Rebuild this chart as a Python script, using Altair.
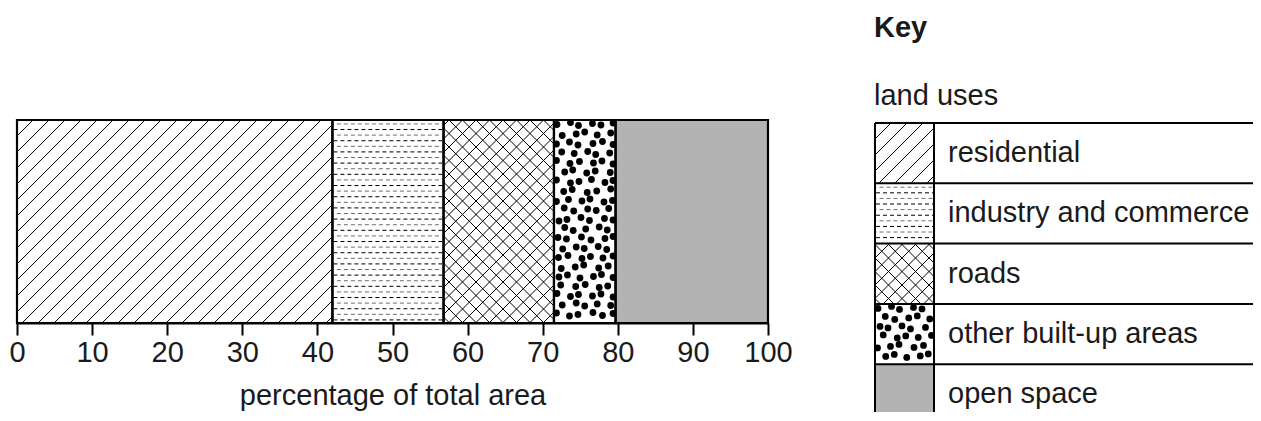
import math
import altair as alt
import pandas as pd

# ---------------- data ----------------
CATEGORIES = ["residential", "industry and commerce", "roads",
              "other built-up areas", "open space"]
PERCENTS = [42.0, 14.8, 14.7, 8.2, 20.3]
PATTERNS = ["diag", "dash", "cross", "dots", "solid"]
TICKS = [0, 10, 20, 30, 40, 50, 60, 70, 80, 90, 100]
AXIS_TITLE = "percentage of total area"
KEY_TITLE = "Key"
KEY_SUBTITLE = "land uses"

# ---------------- layout / style ----------------
FONT = "Liberation Sans"
FS = 29
TEXT_COLOR = "#1a1a1a"
GRAY = "#b3b3b3"
PLOT_W, PLOT_H = 751, 315
BAR_TOP, BAR_H = 112, 203
PX_PER_PCT = PLOT_W / 100.0
LEG_X0, LEG_W = 858, 378
LEG_Y0, ROW_H = 115, 60.3
BOX_W = 59
LABEL_X = 73

DIAG_S = 16.0
CROSS_S = 13.5
DASH_ROW = 5.6


# ---------------- pattern helpers (px, y downwards) ----------------
def diag_lines(x0, x1, y0, y1, s, direction):
    out = []
    if direction == "/":  # x + y = c
        cmin, cmax = x0 + y0, x1 + y1
        k = math.ceil(cmin / s)
        while k * s <= cmax:
            c = k * s
            xa, xb = max(x0, c - y1), min(x1, c - y0)
            if xb - xa > 0.5:
                out.append((xa, c - xa, xb, c - xb))
            k += 1
    else:  # x - y = c
        cmin, cmax = x0 - y1, x1 - y0
        k = math.ceil(cmin / s)
        while k * s <= cmax:
            c = k * s
            xa, xb = max(x0, c + y0), min(x1, c + y1)
            if xb - xa > 0.5:
                out.append((xa, xa - c, xb, xb - c))
            k += 1
    return out


def dash_rows(x0, x1, y0, y1, sp):
    rows = []
    i = 0
    y = y0 + sp * 0.7
    while y < y1 - 1.5:
        rows.append(("gray" if i % 2 == 0 else "black", x0 + 1, y, x1 - 1, y))
        i += 1
        y += sp
    return rows


JX = [0.0, 2.0, -1.5, 1.0, -2.0, 1.5, -0.5, 2.0, -1.0]
JY = [0.5, -1.5, 1.5, -0.5, 1.0, -1.0, 2.0]


def dot_grid(x0, x1, y0, y1, dx=11.5, dy=9.5):
    pts = []
    j = 0
    y = y0 + 4
    n = 0
    while y < y1 - 1:
        off = (j % 2) * dx / 2
        x = x0 + 3 + off
        while x < x1 - 1:
            px = min(max(x + JX[n % len(JX)], x0 + 2.5), x1 - 2.5)
            py = min(max(y + JY[n % len(JY)], y0 + 2.5), y1 - 2.5)
            pts.append((px, py))
            n += 1
            x += dx
        j += 1
        y += dy
    return pts


def bar_pt(xpx, ypx):
    return xpx / PX_PER_PCT, 1 - ypx / BAR_H


def leg_pt(xpx, ypx):
    return xpx, ypx


def build_patterns(kind, rect, conv, lines, dashes, dots):
    x0, x1, y0, y1 = rect
    if kind == "diag":
        for a, b, c, d in diag_lines(x0, x1, y0, y1, DIAG_S, "/"):
            p, q = conv(a, b), conv(c, d)
            lines.append(dict(x=p[0], y=p[1], x2=q[0], y2=q[1]))
    elif kind == "cross":
        for dr in ("/", "\\"):
            for a, b, c, d in diag_lines(x0, x1, y0, y1, CROSS_S, dr):
                p, q = conv(a, b), conv(c, d)
                lines.append(dict(x=p[0], y=p[1], x2=q[0], y2=q[1]))
    elif kind == "dash":
        for col, a, b, c, d in dash_rows(x0, x1, y0, y1, DASH_ROW):
            p, q = conv(a, b), conv(c, d)
            dashes.append(dict(kind=col, x=p[0], y=p[1], x2=q[0], y2=q[1]))
    elif kind == "dots":
        for a, b in dot_grid(x0, x1, y0, y1):
            p = conv(a, b)
            dots.append(dict(x=p[0], y=p[1]))


# ---------------- bar data ----------------
starts, ends = [], []
acc = 0.0
for v in PERCENTS:
    starts.append(acc)
    acc += v
    ends.append(acc)

bar_df = pd.DataFrame({
    "cat": CATEGORIES, "x": starts, "x2": ends, "y": [0.0] * 5, "y2": [1.0] * 5,
    "fill": [GRAY if p == "solid" else "white" for p in PATTERNS],
})

b_lines, b_dashes, b_dots = [], [], []
for s, e, pat in zip(starts, ends, PATTERNS):
    build_patterns(pat, (s * PX_PER_PCT, e * PX_PER_PCT, 0, BAR_H), bar_pt,
                   b_lines, b_dashes, b_dots)

l_lines, l_dashes, l_dots = [], [], []
for i, pat in enumerate(PATTERNS):
    build_patterns(pat, (0, BOX_W, i * ROW_H, (i + 1) * ROW_H), leg_pt,
                   l_lines, l_dashes, l_dots)

# ---------------- bar layers ----------------
SX = alt.Scale(domain=[0, 100], range=[0, PLOT_W], nice=False, zero=False)
SY = alt.Scale(domain=[0, 1], range=[BAR_TOP + BAR_H, BAR_TOP], nice=False, zero=False)
AX = alt.Axis(values=TICKS, title=AXIS_TITLE, grid=False, format="d",
              domainColor="black", domainWidth=2.2, tickColor="black",
              tickWidth=2, tickSize=12, labelFont=FONT, labelFontSize=FS,
              labelColor=TEXT_COLOR, labelPadding=3, labelFlush=False,
              labelOverlap=False, titleFont=FONT, titleFontSize=FS,
              titleFontWeight="normal", titleColor=TEXT_COLOR, titlePadding=14)
BX = alt.X("x:Q", scale=SX, axis=AX)
BY = alt.Y("y:Q", scale=SY, axis=None)

bar_fill = alt.Chart(bar_df).mark_rect().encode(
    x=BX, x2="x2:Q", y=BY, y2="y2:Q", fill=alt.Fill("fill:N", scale=None))
bar_lines = alt.Chart(pd.DataFrame(b_lines)).mark_rule(
    color="black", strokeWidth=1).encode(x=BX, x2="x2:Q", y=BY, y2="y2:Q")
bar_dash_g = alt.Chart(pd.DataFrame([d for d in b_dashes if d["kind"] == "gray"])).mark_rule(
    color="#6e6e6e", strokeWidth=1, strokeDash=[4, 3], strokeDashOffset=3.5
).encode(x=BX, x2="x2:Q", y=BY, y2="y2:Q")
bar_dash_b = alt.Chart(pd.DataFrame([d for d in b_dashes if d["kind"] == "black"])).mark_rule(
    color="black", strokeWidth=1, strokeDash=[4, 3]
).encode(x=BX, x2="x2:Q", y=BY, y2="y2:Q")
bar_dots = alt.Chart(pd.DataFrame(b_dots)).mark_circle(
    color="black", opacity=1, size=46).encode(x=BX, y=BY)
bar_outline = alt.Chart(bar_df).mark_rect(
    fillOpacity=0, stroke="black", strokeWidth=2.2).encode(x=BX, x2="x2:Q", y=BY, y2="y2:Q")

bar_layer = alt.layer(bar_fill, bar_lines, bar_dash_g, bar_dash_b, bar_dots, bar_outline)

# ---------------- legend layers ----------------
LSX = alt.Scale(domain=[0, LEG_W], range=[LEG_X0, LEG_X0 + LEG_W], nice=False, zero=False)
LSY = alt.Scale(domain=[0, 5 * ROW_H], range=[LEG_Y0, LEG_Y0 + 5 * ROW_H], nice=False, zero=False)
LX = alt.X("x:Q", scale=LSX, axis=None)
LY = alt.Y("y:Q", scale=LSY, axis=None)

leg_boxes = pd.DataFrame({
    "x": [0.0] * 5, "x2": [float(BOX_W)] * 5,
    "y": [i * ROW_H for i in range(5)], "y2": [(i + 1) * ROW_H for i in range(5)],
    "fill": [GRAY if p == "solid" else "white" for p in PATTERNS],
})
leg_fill = alt.Chart(leg_boxes).mark_rect().encode(
    x=LX, x2="x2:Q", y=LY, y2="y2:Q", fill=alt.Fill("fill:N", scale=None))
leg_lines = alt.Chart(pd.DataFrame(l_lines)).mark_rule(
    color="black", strokeWidth=1).encode(x=LX, x2="x2:Q", y=LY, y2="y2:Q")
leg_dash_g = alt.Chart(pd.DataFrame([d for d in l_dashes if d["kind"] == "gray"])).mark_rule(
    color="#6e6e6e", strokeWidth=1, strokeDash=[4, 3], strokeDashOffset=3.5
).encode(x=LX, x2="x2:Q", y=LY, y2="y2:Q")
leg_dash_b = alt.Chart(pd.DataFrame([d for d in l_dashes if d["kind"] == "black"])).mark_rule(
    color="black", strokeWidth=1, strokeDash=[4, 3]
).encode(x=LX, x2="x2:Q", y=LY, y2="y2:Q")
leg_dots = alt.Chart(pd.DataFrame(l_dots)).mark_circle(
    color="black", opacity=1, size=46).encode(x=LX, y=LY)

grid_rows = [dict(x=0.0, x2=float(LEG_W), y=i * ROW_H, y2=i * ROW_H) for i in range(5)]
grid_cols = [dict(x=0.0, x2=0.0, y=0.0, y2=5 * ROW_H),
             dict(x=float(BOX_W), x2=float(BOX_W), y=0.0, y2=5 * ROW_H)]
leg_grid = alt.Chart(pd.DataFrame(grid_rows + grid_cols)).mark_rule(
    color="black", strokeWidth=2).encode(x=LX, x2="x2:Q", y=LY, y2="y2:Q")

leg_text_df = pd.DataFrame({
    "x": [float(LABEL_X)] * 5, "y": [(i + 0.5) * ROW_H for i in range(5)], "t": CATEGORIES})
leg_text = alt.Chart(leg_text_df).mark_text(
    align="left", baseline="middle", font=FONT, fontSize=FS, color=TEXT_COLOR
).encode(x=LX, y=LY, text="t:N")

head_df = pd.DataFrame({"x": [-1.0], "y": [-95.0], "t": [KEY_TITLE]})
head_text = alt.Chart(head_df).mark_text(
    align="left", baseline="middle", font=FONT, fontSize=FS, fontWeight="bold",
    color=TEXT_COLOR).encode(x=LX, y=LY, text="t:N")
sub_df = pd.DataFrame({"x": [-1.0], "y": [-27.0], "t": [KEY_SUBTITLE]})
sub_text = alt.Chart(sub_df).mark_text(
    align="left", baseline="middle", font=FONT, fontSize=FS, color=TEXT_COLOR
).encode(x=LX, y=LY, text="t:N")

legend_layer = alt.layer(leg_fill, leg_lines, leg_dash_g, leg_dash_b, leg_dots,
                         leg_grid, leg_text, head_text, sub_text)

chart = alt.layer(bar_layer, legend_layer).resolve_scale(
    x="independent", y="independent"
).properties(
    width=PLOT_W, height=PLOT_H,
    padding={"left": 9, "top": 0, "right": 485, "bottom": 89},
    autosize=alt.AutoSizeParams(type="none"),
    background="white",
).configure_view(stroke=None)

chart.save("out.html", embed_options={"renderer": "svg", "actions": False})
